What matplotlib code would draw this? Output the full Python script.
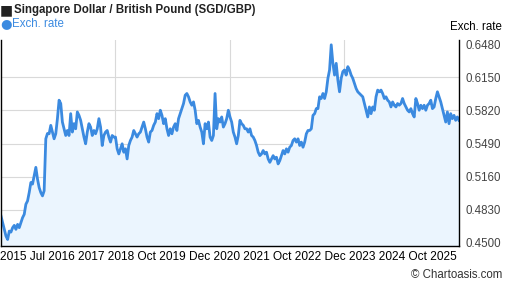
import matplotlib
matplotlib.use("Agg")
import matplotlib.pyplot as plt
import pandas as pd

plt.rcParams["font.family"] = ["Liberation Sans", "DejaVu Sans"]

start_date = "2015-10-24"
end_date = "2025-10-24"

# SGD/GBP, every two weeks
rates_2015_2020 = [
    0.4766, 0.4700, 0.4633, 0.4566, 0.4532, 0.4616, 0.4606, 0.4650, 0.4673, 0.4633,
    0.4683, 0.4650, 0.4700, 0.4750, 0.4783, 0.4884, 0.4917, 0.5001, 0.5101, 0.5085,
    0.5168, 0.5252, 0.5135, 0.5050, 0.5000, 0.4967, 0.5018, 0.5537, 0.5590, 0.5587,
    0.5671, 0.5604, 0.5537, 0.5587, 0.5738, 0.5922, 0.5889, 0.5704, 0.5637, 0.5570,
    0.5620, 0.5570, 0.5788, 0.5604, 0.5688, 0.5637, 0.5805, 0.5771, 0.5721, 0.5637,
    0.5554, 0.5487, 0.5604, 0.5688, 0.5654, 0.5570, 0.5620, 0.5587, 0.5637, 0.5738,
    0.5654, 0.5470, 0.5570, 0.5604, 0.5620, 0.5554, 0.5504, 0.5570, 0.5554, 0.5554,
    0.5437, 0.5386, 0.5437, 0.5487, 0.5403, 0.5437, 0.5336, 0.5470, 0.5520, 0.5554,
    0.5620, 0.5587, 0.5554, 0.5587, 0.5604, 0.5654, 0.5704, 0.5637, 0.5554, 0.5504,
    0.5604, 0.5620, 0.5671, 0.5704, 0.5788, 0.5738, 0.5822, 0.5771, 0.5688, 0.5738,
    0.5637, 0.5570, 0.5637, 0.5587, 0.5654, 0.5688, 0.5620, 0.5738, 0.5788, 0.5838,
    0.5889, 0.5972, 0.5989, 0.5956, 0.5905, 0.5872, 0.5905, 0.5822, 0.5688, 0.5721,
    0.5654, 0.5604, 0.5487, 0.5688, 0.5637, 0.5704, 0.5554, 0.5520, 0.5570, 0.5989,
    0.5637, 0.5738, 0.5704, 0.5755, 0.5654, 0.5688, 0.5738, 0.5822, 0.5755,
]
rates_2020_2025 = [
    0.5704, 0.5604, 0.5554, 0.5487, 0.5570, 0.5721, 0.5688, 0.5671, 0.5637, 0.5637,
    0.5604, 0.5637, 0.5570, 0.5554, 0.5520, 0.5470, 0.5403, 0.5369, 0.5386, 0.5420,
    0.5386, 0.5403, 0.5336, 0.5302, 0.5336, 0.5369, 0.5336, 0.5353, 0.5286, 0.5319,
    0.5369, 0.5420, 0.5386, 0.5437, 0.5403, 0.5453, 0.5470, 0.5520, 0.5537, 0.5504,
    0.5537, 0.5470, 0.5504, 0.5453, 0.5504, 0.5587, 0.5620, 0.5620, 0.5637, 0.5771,
    0.5788, 0.5838, 0.5838, 0.5956, 0.5939, 0.5989, 0.5939, 0.6006, 0.6140, 0.6224,
    0.6475, 0.6290, 0.6173, 0.6290, 0.6123, 0.6006, 0.6140, 0.6207, 0.6224, 0.6173,
    0.6257, 0.6224, 0.6173, 0.6140, 0.6090, 0.6039, 0.6006, 0.5989, 0.5972, 0.5956,
    0.5889, 0.5822, 0.5755, 0.5855, 0.5788, 0.5855, 0.5822, 0.5956, 0.6023, 0.6006,
    0.6023, 0.5989, 0.5939, 0.5956, 0.5922, 0.5905, 0.5855, 0.5905, 0.5872, 0.5855,
    0.5889, 0.5872, 0.5889, 0.5939, 0.5889, 0.5855, 0.5822, 0.5805, 0.5838, 0.5788,
    0.5755, 0.5939, 0.5889, 0.5822, 0.5872, 0.5838, 0.5872, 0.5822, 0.5872, 0.5889,
    0.5922, 0.5838, 0.5855, 0.5939, 0.6006, 0.5956, 0.5905, 0.5838, 0.5771, 0.5704,
    0.5805, 0.5688, 0.5788, 0.5738, 0.5771, 0.5721, 0.5755, 0.5721,
]
rates = rates_2015_2020 + rates_2020_2025
dates = pd.date_range(start_date, end_date, periods=len(rates))

y_ticks = [0.4500, 0.4830, 0.5160, 0.5490, 0.5820, 0.6150, 0.6480]
grid_dates = ["2018-04-24", "2020-10-24", "2023-04-24"]
x_label_text = "2015 Jul 2016 2017 2018 Oct 2019 Dec 2020 2021 Oct 2022 Dec 2023 2024 Oct 2025"

line_color = "#3b8ae0"
fill_color = "#ebf5fe"

fig = plt.figure(figsize=(5.07, 2.88), dpi=100)
ax = fig.add_axes([1 / 507, 42 / 288, 458 / 507, 206 / 288])

ax.fill_between(dates, rates, 0, color=fill_color, lw=0)
ax.plot(dates, rates, color=line_color, lw=2.0)

ax.set_xlim(pd.Timestamp(start_date), pd.Timestamp(end_date))
ax.set_ylim(0.4467, 0.6523)

for d in grid_dates:
    ax.axvline(pd.Timestamp(d), color="#d9d9d9", lw=0.8, zorder=0)
for v in y_ticks[1:-1]:
    ax.axhline(v, color="#d9d9d9", lw=0.8, zorder=0)

ax.set_xticks([])
ax.yaxis.tick_right()
ax.set_yticks(y_ticks)
ax.set_yticklabels([f"{v:.4f}" for v in y_ticks])
ax.tick_params(axis="y", length=0, pad=5, labelsize=8.3, labelcolor="#444444")

ax.spines["top"].set_visible(False)
for side in ["left", "right", "bottom"]:
    ax.spines[side].set_color("black")
    ax.spines[side].set_linewidth(1.0)

fig.text(0 / 507, 1 - 10 / 288, "\u25a0", fontsize=10, va="center", ha="left",
         color="#222222", family=["DejaVu Sans"])
fig.text(14 / 507, 1 - 10 / 288, "Singapore Dollar / British Pound (SGD/GBP)",
         fontsize=8.3, fontweight="bold", va="center", ha="left", color="#222222")
fig.text(0 / 507, 1 - 24 / 288, "\u25cf", fontsize=9.5, va="center", ha="left",
         color=line_color, family=["DejaVu Sans"])
fig.text(12 / 507, 1 - 24 / 288, "Exch. rate", fontsize=8.3, va="center", ha="left",
         color=line_color)
fig.text(502 / 507, 1 - 27 / 288, "Exch. rate", fontsize=8.3, va="center", ha="right",
         color="black")
fig.text(0 / 507, 1 - 257.5 / 288, x_label_text, fontsize=8.6, va="center", ha="left",
         color="black")
fig.text(502 / 507, 1 - 275 / 288, "\u00a9 Chartoasis.com", fontsize=8.3, va="center",
         ha="right", color="#333333")

fig.savefig("out.png", dpi=100)
